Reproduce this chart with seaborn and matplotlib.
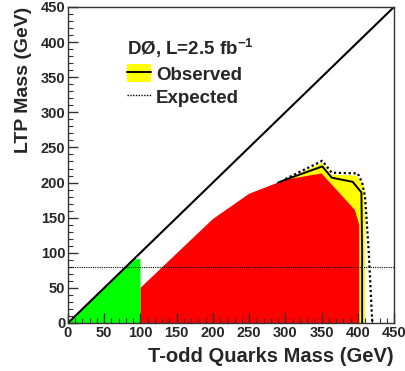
import matplotlib
matplotlib.use("Agg")
import matplotlib.pyplot as plt
import seaborn as sns
import pandas as pd
from matplotlib.ticker import MultipleLocator
from matplotlib.lines import Line2D
from matplotlib.patches import Patch
from matplotlib.legend_handler import HandlerTuple

# ---- data ----
green_x = [0, 91, 100, 100]
green_y = [0, 91, 91, 0]

red_x = [100, 100, 200, 250, 300, 350, 396, 402, 402]
red_y = [0, 50, 148, 184, 204, 213, 161, 140, 0]

yellow_x = [300, 351, 364, 398, 408, 410, 410]
yellow_y = [204, 228, 211, 210, 195, 150, 0]

obs_x = [290, 300, 351, 364, 393, 405, 406, 406]
obs_y = [200, 204, 223, 207, 201, 186, 100, 0]

exp_x = [300, 351, 364, 400, 406, 410, 415, 420]
exp_y = [205, 231, 214, 213, 200, 180, 104, 0]

diag_x = [0, 450]
diag_y = [0, 450]

hline_x = [0, 450]
hline_y = [80, 80]

x_label = "T-odd Quarks Mass (GeV)"
y_label = "LTP Mass (GeV)"
title_text = "DØ, L=2.5 fb$^{\\mathbf{-1}}$"
legend_labels = ["Observed", "Expected"]

sns.set_style("ticks")
plt.rcParams['font.family'] = ['Liberation Sans', 'DejaVu Sans']
plt.rcParams['font.weight'] = 'bold'
plt.rcParams['mathtext.fontset'] = 'custom'
plt.rcParams['mathtext.bf'] = 'Liberation Sans:bold'
plt.rcParams['mathtext.rm'] = 'Liberation Sans:bold'

fig = plt.figure(figsize=(4.05, 3.71), dpi=100)
ax = fig.add_axes([68/405, 1-323/371, (394-68)/405, (323-7)/371])
ax.set_axisbelow(False)

# filled regions
ax.fill(yellow_x + [300], yellow_y + [0], color="#ffff00", lw=0, zorder=1)
ax.fill(red_x, red_y, color="#ff0000", lw=0, zorder=2)
ax.fill(green_x, green_y, color="#00ff00", lw=0, zorder=2)

df_obs = pd.DataFrame({"x": obs_x, "y": obs_y})
df_exp = pd.DataFrame({"x": exp_x, "y": exp_y})
df_diag = pd.DataFrame({"x": diag_x, "y": diag_y})
df_h = pd.DataFrame({"x": hline_x, "y": hline_y})

sns.lineplot(data=df_obs, x="x", y="y", sort=False, estimator=None, color="black", lw=1.4, ax=ax, zorder=4)
sns.lineplot(data=df_exp, x="x", y="y", sort=False, estimator=None, color="black", lw=1.6,
             linestyle=(0, (1, 1.2)), ax=ax, zorder=4)
sns.lineplot(data=df_diag, x="x", y="y", sort=False, estimator=None, color="black", lw=1.5, ax=ax, zorder=4)
sns.lineplot(data=df_h, x="x", y="y", sort=False, estimator=None, color="black", lw=0.8,
             linestyle=(0, (1, 1)), ax=ax, zorder=3)

ax.set_xlim(0, 450)
ax.set_ylim(0, 450)
ax.xaxis.set_major_locator(MultipleLocator(50))
ax.xaxis.set_minor_locator(MultipleLocator(10))
ax.yaxis.set_major_locator(MultipleLocator(50))
ax.yaxis.set_minor_locator(MultipleLocator(10))
ax.tick_params(which="major", direction="in", length=7, width=1, labelsize=10.5, pad=2, color="#333333")
ax.tick_params(which="minor", direction="in", length=3.5, width=0.8, color="#333333")
ax.tick_params(top=False, right=False, which="both")
for lab in ax.get_xticklabels() + ax.get_yticklabels():
    lab.set_fontweight("bold")
for s in ax.spines.values():
    s.set_linewidth(1.0)
    s.set_color("#333333")
    s.set_zorder(5)

ax.set_xlabel(x_label, fontsize=14.5, fontweight="bold", loc="right", labelpad=5)
ax.set_ylabel(y_label, fontsize=14, fontweight="bold", loc="top", labelpad=6)

# legend-like annotations
ax.text(0.18, 0.87, title_text, transform=ax.transAxes, fontsize=13.5, fontweight="bold",
        va="center", ha="left")
handles = [
    (Patch(facecolor="#ffff00", edgecolor="none"), Line2D([], [], color="black", lw=1.4)),
    Line2D([], [], color="black", lw=1.0, linestyle=(0, (1, 1))),
]
leg = ax.legend(handles, legend_labels, loc="upper left",
                bbox_to_anchor=(0.17, 0.83), frameon=False, fontsize=13.5,
                handlelength=1.25, handleheight=1.1, handletextpad=0.3, labelspacing=0.2,
                borderaxespad=0, borderpad=0.2,
                handler_map={tuple: HandlerTuple(ndivide=1, pad=0)})
for t in leg.get_texts():
    t.set_fontweight("bold")

fig.savefig("out.png", dpi=100)
